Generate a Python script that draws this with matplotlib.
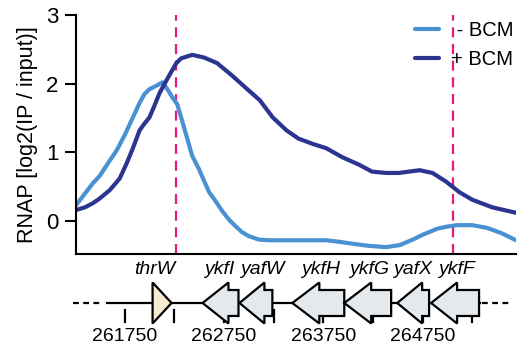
import matplotlib
matplotlib.use("Agg")
import matplotlib.pyplot as plt
from matplotlib.patches import Polygon

plt.rcParams['font.family'] = ['Liberation Sans', 'DejaVu Sans']

# ---------------- data ----------------
pos_minus = [261260, 261350, 261430, 261500, 261600, 261670, 261750, 261830, 261900, 261950,
             262000, 262070, 262130, 262180, 262230, 262280, 262330, 262370, 262430, 262500,
             262560, 262600, 262670, 262730, 262800, 262870, 262930, 263000, 263100, 263200,
             263500, 263780, 263900, 264040, 264200, 264380, 264520, 264650, 264750, 264900,
             265000, 265100, 265250, 265400, 265550, 265690]
val_minus = [0.23, 0.40, 0.55, 0.66, 0.88, 1.03, 1.25, 1.50, 1.72, 1.85,
             1.92, 1.97, 2.02, 1.92, 1.80, 1.70, 1.45, 1.25, 0.95, 0.75,
             0.55, 0.42, 0.28, 0.15, 0.02, -0.08, -0.16, -0.22, -0.27, -0.28,
             -0.28, -0.28, -0.30, -0.33, -0.36, -0.38, -0.35, -0.27, -0.20, -0.11,
             -0.08, -0.06, -0.06, -0.10, -0.18, -0.28]

pos_plus = [261260, 261350, 261430, 261500, 261600, 261700, 261770, 261830, 261900, 261950,
            262000, 262050, 262100, 262160, 262230, 262270, 262320, 262430, 262550, 262680,
            262830, 263000, 263110, 263240, 263380, 263500, 263650, 263780, 263940, 264110,
            264240, 264380, 264510, 264720, 264850, 264990, 265120, 265250, 265450, 265690]
val_plus = [0.16, 0.20, 0.26, 0.33, 0.45, 0.62, 0.84, 1.05, 1.32, 1.42,
            1.51, 1.68, 1.86, 2.02, 2.20, 2.30, 2.37, 2.42, 2.38, 2.30,
            2.12, 1.90, 1.76, 1.51, 1.32, 1.20, 1.12, 1.06, 0.93, 0.82,
            0.72, 0.70, 0.70, 0.74, 0.70, 0.57, 0.42, 0.31, 0.20, 0.12]

series_labels = [' - BCM', '+ BCM']
marker_positions = [262263, 265057]

y_ticks = [0, 1, 2, 3]
coord_ticks_minor = [261750, 262250, 262750, 263250, 263750, 264250, 264750, 265250]
coord_labels = [261750, 262750, 263750, 264750]

gene_names = ['ykfI', 'yafW', 'ykfH', 'ykfG', 'yafX', 'ykfF']
gene_tip = [262534, 262906, 263438, 263961, 264494, 264835]
gene_headbase = [262795, 263157, 263710, 264232, 264745, 265097]
gene_end = [262896, 263237, 263961, 264433, 264815, 265318]
gene_label_pos = [262705, 263137, 263720, 264212, 264654, 265087]

trna_name = 'thrW'
trna_start = 262031
trna_end = 262222
trna_label_pos = 262052

XMIN, XMAX = 261260, 265690

# ---------------- figure ----------------
W, H = 520, 354
fig = plt.figure(figsize=(W / 100, H / 100), dpi=100)

def fx(px):
    return px / W

def fy(py):
    return 1 - py / H

ax = fig.add_axes([fx(76), fy(254), fx(516) - fx(76), fy(15) - fy(254)])
c_minus = '#4a91d1'
c_plus = '#2b348f'
ax.plot(pos_minus, val_minus, color=c_minus, lw=3.0, solid_capstyle='round',
        solid_joinstyle='round', label=series_labels[0])
ax.plot(pos_plus, val_plus, color=c_plus, lw=3.0, solid_capstyle='round',
        solid_joinstyle='round', label=series_labels[1])
for m in marker_positions:
    ax.axvline(m, color='#e6197f', lw=1.6, ls=(0, (4.5, 3.0)), zorder=0)

ax.set_xlim(XMIN, XMAX)
ax.set_ylim(-0.48, 3)
ax.set_yticks(y_ticks)
ax.set_xticks([])
for s in ['top', 'right']:
    ax.spines[s].set_visible(False)
for s in ['left', 'bottom']:
    ax.spines[s].set_linewidth(1.5)
ax.tick_params(axis='y', length=8, width=1.5, labelsize=16, pad=4.5)
ax.set_ylabel('RNAP [log2(IP / input)]', fontsize=15.5, labelpad=6)
leg = ax.legend(loc='upper right', frameon=False, fontsize=14.5, handlelength=1.19,
                handletextpad=0.58, labelspacing=0.50, borderaxespad=0.0, borderpad=0.0,
                bbox_to_anchor=(fx(513.5), fy(21)), bbox_transform=fig.transFigure)

# ---------------- gene track ----------------
gax = fig.add_axes([fx(76), fy(354), fx(516) - fx(76), fy(256) - fy(354)])
gax.set_xlim(XMIN, XMAX)
gax.set_ylim(354, 256)
gax.axis('off')

yc = 303
hh = 20.5
bh = 13
lw = 1.6

gax.plot([261227, 261529], [yc, yc], color='black', lw=lw, ls=(0, (2.6, 2.0)),
         clip_on=False, zorder=1)
gax.plot([265348, 265619], [yc, yc], color='black', lw=lw, ls=(0, (2.6, 2.0)),
         clip_on=False, zorder=1)
gax.plot([261569, 265330], [yc, yc], color='black', lw=lw, zorder=1)

for t in coord_ticks_minor:
    gax.plot([t, t], [310, 322], color='black', lw=1.6, zorder=0.5)
for t in coord_labels:
    gax.text(t, 337, str(t), ha='center', va='center', fontsize=14)

tri = Polygon([(trna_start, yc - hh), (trna_end, yc), (trna_start, yc + hh)],
              closed=True, facecolor='#f8ebd2', edgecolor='black', lw=lw, zorder=3)
gax.add_patch(tri)
gax.text(trna_label_pos, 270, trna_name, ha='center', va='center', fontsize=14,
         style='italic')

for name, tip, hb, end, lp in zip(gene_names, gene_tip, gene_headbase, gene_end, gene_label_pos):
    pts = [(tip, yc), (hb, yc - hh), (hb, yc - bh), (end, yc - bh),
           (end, yc + bh), (hb, yc + bh), (hb, yc + hh)]
    gax.add_patch(Polygon(pts, closed=True, facecolor='#e4e9ee', edgecolor='black',
                          lw=lw, joinstyle='miter', zorder=3))
    gax.text(lp, 270, name, ha='center', va='center', fontsize=14, style='italic')

fig.savefig('out.png', dpi=100)
